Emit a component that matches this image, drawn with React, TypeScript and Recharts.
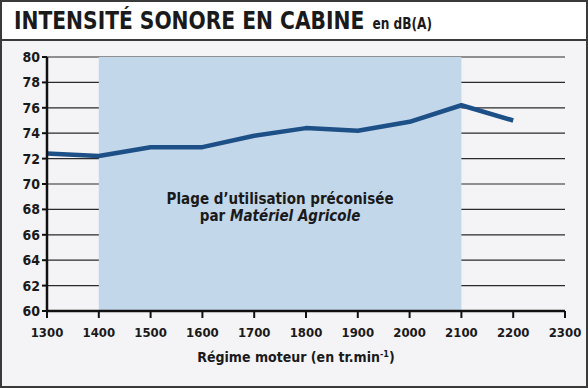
import { LineChart, Line, XAxis, YAxis, CartesianGrid, ReferenceArea } from "recharts";

const regimes = [1300, 1400, 1500, 1600, 1700, 1800, 1900, 2000, 2100, 2200];
const intensite = [72.4, 72.2, 72.9, 72.9, 73.8, 74.4, 74.2, 74.9, 76.2, 75.0];
const xTicks = [1300, 1400, 1500, 1600, 1700, 1800, 1900, 2000, 2100, 2200, 2300];
const yTicks = [60, 62, 64, 66, 68, 70, 72, 74, 76, 78, 80];
const plage = [1400, 2100];

const data = regimes.map((r, i) => ({ regime: r, db: intensite[i] }));

const FONT = "'Liberation Sans Narrow', 'DejaVu Sans Condensed', 'Liberation Sans', sans-serif";

const PlageLabel = (props: any) => {
    const { viewBox } = props;
    const cx = viewBox.x + viewBox.width / 2;
    return (
        <text x={cx} textAnchor="middle" fontFamily={FONT} fontWeight="bold" fontSize={15} fill="#1a1a1a">
            <tspan x={cx} y={204}>Plage d’utilisation préconisée</tspan>
            <tspan x={cx} y={221}>par <tspan fontStyle="italic">Matériel Agricole</tspan></tspan>
        </text>
    );
};

const XLabel = () => (
    <text x={296} y={362} textAnchor="middle" fontFamily={FONT} fontWeight="bold" fontSize={14} fill="#1a1a1a">
        Régime moteur (en tr.min<tspan fontSize={9} dy={-5}>-1</tspan><tspan dy={5}>)</tspan>
    </text>
);

export default function App() {
    return (
        <div style={{ position: "absolute", left: 0, top: 0, width: 588, height: 388, boxSizing: "border-box", border: "2px solid #3a3a3a", background: "#f4f3f6", fontFamily: FONT }}>
            <div style={{ position: "absolute", left: 0, top: 0, width: 584, height: 37, background: "#fff", borderBottom: "2px solid #3a3a3a" }}>
                <span style={{ position: "absolute", left: 12, top: 4, fontSize: 25, fontWeight: "bold", color: "#1a1a1a", whiteSpace: "nowrap", transform: "scaleX(0.9)", transformOrigin: "left center" }}>
                    INTENSITÉ SONORE EN CABINE
                    <span style={{ fontSize: 15, marginLeft: 9 }}>en dB(A)</span>
                </span>
            </div>
            <div style={{ position: "absolute", left: -2, top: -2 }}>
                <LineChart width={588} height={388} data={data} margin={{ top: 57, right: 23, bottom: 47, left: 7 }}>
                    <ReferenceArea x1={plage[0]} x2={plage[1]} y1={60} y2={80} fill="#c3d7eb" fillOpacity={1} stroke="none" label={<PlageLabel />} />
                    <CartesianGrid vertical={false} stroke="#2a2a2a" strokeWidth={1.2} />
                    <XAxis
                        dataKey="regime"
                        type="number"
                        domain={[1300, 2300]}
                        ticks={xTicks}
                        height={30}
                        axisLine={{ stroke: "#111", strokeWidth: 2.5 }}
                        tickLine={{ stroke: "#111", strokeWidth: 2 }}
                        tickSize={7}
                        tickMargin={10}
                        tick={{ fontFamily: FONT, fontWeight: "bold", fontSize: 13, fill: "#1a1a1a" }}
                        label={<XLabel />}
                    />
                    <YAxis
                        type="number"
                        domain={[60, 80]}
                        ticks={yTicks}
                        width={40}
                        interval={0}
                        axisLine={{ stroke: "#111", strokeWidth: 2.5 }}
                        tickLine={{ stroke: "#111", strokeWidth: 2 }}
                        tickSize={5}
                        tick={{ fontFamily: FONT, fontWeight: "bold", fontSize: 14, fill: "#1a1a1a" }}
                    />
                    <Line type="linear" dataKey="db" stroke="#1d5087" strokeWidth={4.5} dot={false} isAnimationActive={false} strokeLinejoin="round" />
                </LineChart>
            </div>
        </div>
    );
}
